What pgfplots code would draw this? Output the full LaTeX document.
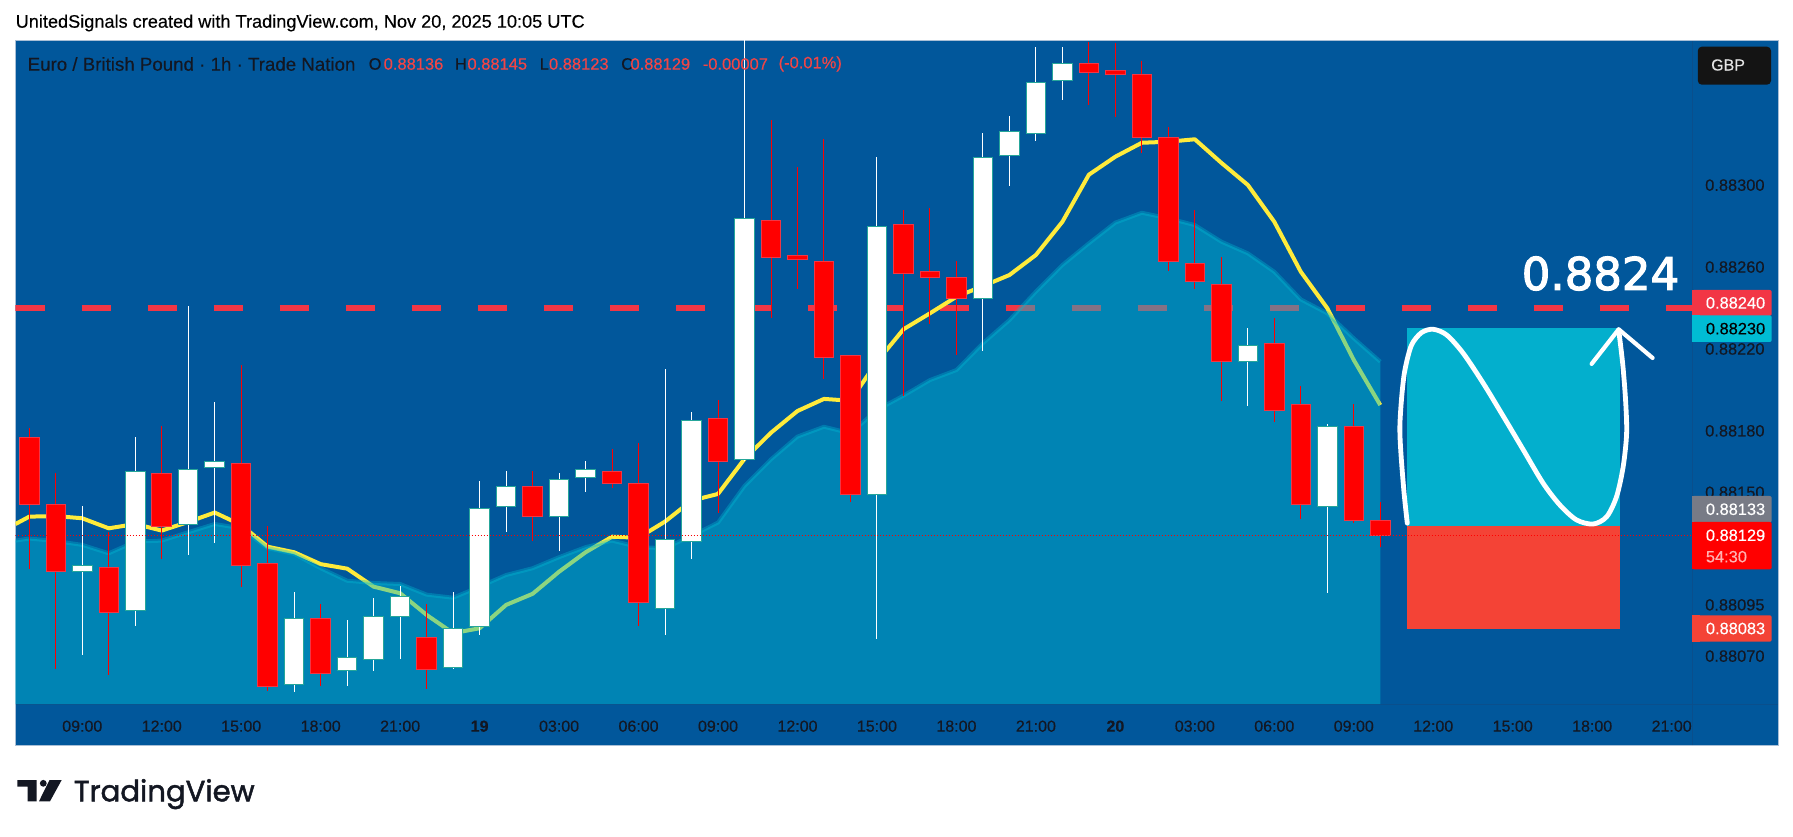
\documentclass[border=0pt]{standalone}
\usepackage{fontspec}
\setmainfont[FakeBold=0.3]{Liberation Sans}
\newfontfamily\bigf[FakeBold=2.5]{DejaVu Sans}
\newfontfamily\logof[FakeBold=1.6]{Poppins}
\usepackage{pgfplots}
\usepackage{pgfplotstable}
\pgfplotsset{compat=1.18}
\definecolor{bg}{HTML}{01579B}
\definecolor{frameline}{HTML}{A9BFD6}
\definecolor{sep}{HTML}{0A4F8C}
\definecolor{ink}{HTML}{131722}
\definecolor{tvred}{HTML}{F23645}
\definecolor{legred}{HTML}{F24545}
\definecolor{cyanC}{HTML}{00BCD4}
\definecolor{boxteal}{HTML}{03AFCD}
\definecolor{boxred}{HTML}{F44336}
\definecolor{yel}{HTML}{FFEB3B}
\definecolor{bullborder}{HTML}{26A69A}
\definecolor{grayL}{HTML}{787B86}
\newcommand{\fs}[1]{\fontsize{#1}{#1}\selectfont}

% i high top bot low
\pgfplotstableread{
i high top bot low
0 0.881814 0.881769 0.881441 0.881127
1 0.881593 0.881441 0.881114 0.880639
3 0.881308 0.881134 0.880914 0.880609
5 0.881824 0.881593 0.881332 0.881176
8 0.882120 0.881642 0.881144 0.881036
9 0.881336 0.881153 0.880553 0.880528
11 0.880955 0.880885 0.880616 0.880556
15 0.880955 0.880792 0.880636 0.880538
19 0.881603 0.881529 0.881383 0.881262
22 0.881712 0.881601 0.881544 0.881523
23 0.881739 0.881544 0.880961 0.880849
26 0.881951 0.881861 0.881650 0.881398
28 0.883318 0.882828 0.882648 0.882353
29 0.883088 0.882657 0.882638 0.882491
30 0.883224 0.882628 0.882159 0.882055
31 0.882169 0.882169 0.881490 0.881453
33 0.882879 0.882809 0.882569 0.881972
34 0.882888 0.882579 0.882550 0.882323
35 0.882628 0.882550 0.882447 0.882171
40 0.883699 0.883595 0.883549 0.883390
41 0.883692 0.883561 0.883539 0.883331
42 0.883605 0.883541 0.883233 0.883158
43 0.883282 0.883233 0.882628 0.882582
44 0.882879 0.882618 0.882530 0.882491
45 0.882648 0.882516 0.882140 0.881944
47 0.882351 0.882228 0.881900 0.881845
48 0.882019 0.881930 0.881440 0.881368
50 0.881931 0.881822 0.881363 0.881349
51 0.881453 0.881363 0.881290 0.881234
}\bearTable

\pgfplotstableread{
i high top bot low
2 0.881433 0.881142 0.881114 0.880707
4 0.881770 0.881601 0.880924 0.880849
6 0.882410 0.881610 0.881344 0.881195
7 0.881941 0.881651 0.881622 0.881254
10 0.881013 0.880883 0.880563 0.880526
12 0.880877 0.880692 0.880628 0.880554
13 0.880984 0.880893 0.880685 0.880629
14 0.881043 0.880990 0.880895 0.880688
16 0.881013 0.880834 0.880646 0.880639
17 0.881555 0.881420 0.880846 0.880805
18 0.881604 0.881527 0.881432 0.881308
20 0.881594 0.881562 0.881383 0.881215
21 0.881653 0.881610 0.881573 0.881503
24 0.882101 0.881271 0.880934 0.880805
25 0.881892 0.881852 0.881261 0.881176
27 0.883750 0.882838 0.881661 0.881653
32 0.883137 0.882797 0.881490 0.880785
36 0.883254 0.883136 0.882447 0.882192
37 0.883338 0.883261 0.883146 0.882997
38 0.883674 0.883502 0.883253 0.883217
39 0.883674 0.883595 0.883512 0.883416
46 0.882301 0.882216 0.882140 0.881923
49 0.881834 0.881820 0.881432 0.881007
}\bullTable

\pgfplotstableread{
x ema
-0.521 0.881264
0 0.881274
1 0.881262
2 0.881243
3 0.881202
4 0.881259
5 0.881264
6 0.881305
7 0.881345
8 0.881324
9 0.881227
10 0.881199
11 0.881129
12 0.881068
13 0.881057
14 0.881052
15 0.881000
16 0.880985
17 0.881039
18 0.881096
19 0.881129
20 0.881183
21 0.881232
22 0.881264
23 0.881232
24 0.881227
25 0.881287
26 0.881352
27 0.881531
28 0.881661
29 0.881772
30 0.881820
31 0.881788
32 0.881902
33 0.881972
34 0.882048
35 0.882097
36 0.882228
37 0.882341
38 0.882480
39 0.882610
40 0.882716
41 0.882817
42 0.882865
43 0.882838
44 0.882805
45 0.882724
46 0.882667
47 0.882577
48 0.882442
49 0.882374
50 0.882252
51 0.882138
}\areaTable

\pgfplotstableread{
x ma
-0.521 0.881345
0 0.881381
1 0.881384
2 0.881373
3 0.881324
4 0.881345
5 0.881313
6 0.881355
7 0.881401
8 0.881340
9 0.881234
10 0.881207
11 0.881149
12 0.881127
13 0.881039
14 0.881007
15 0.880901
16 0.880812
17 0.880836
18 0.880950
19 0.881004
20 0.881112
21 0.881207
22 0.881283
23 0.881278
24 0.881357
25 0.881459
26 0.881492
27 0.881663
28 0.881791
29 0.881897
30 0.881956
31 0.881947
32 0.882138
33 0.882296
34 0.882374
35 0.882455
36 0.882507
37 0.882561
38 0.882659
39 0.882821
40 0.883051
41 0.883139
42 0.883207
43 0.883212
44 0.883224
45 0.883109
46 0.883001
47 0.882821
48 0.882577
49 0.882399
50 0.882146
51 0.881926
}\maTable

\pgfplotstableread{
x y
52.02 0.881349
51.90 0.881495
51.78 0.881690
51.74 0.881820
51.81 0.881967
51.93 0.882097
52.18 0.882219
52.56 0.882280
53.00 0.882296
53.51 0.882268
54.13 0.882179
54.89 0.882032
55.65 0.881870
56.40 0.881707
57.15 0.881544
57.78 0.881438
58.41 0.881365
59.04 0.881345
59.55 0.881381
59.92 0.881479
60.17 0.881625
60.30 0.881788
60.26 0.881951
60.15 0.882130
60.00 0.882293
}\curveTable

\pgfplotsset{
  candlewick/.style={forget plot, draw=none, mark=none, error bars/.cd, y dir=both, y explicit, error mark=none, error bar style={line width=1pt, color=#1}},
  candlebody/.style 2 args={forget plot, draw=none, mark=none, error bars/.cd, y dir=both, y explicit, error mark=none, error bar style={line width=#1, color=#2}},
}

\begin{document}
\begin{tikzpicture}[x=1pt,y=1pt]
% page
\fill[white] (0,0) rectangle (1793,836);
% chart frame (y measured from bottom = 836 - py)
\fill[bg] (15.5,91) rectangle (1778,795);
\draw[frameline,line width=1pt] (15.5,91) rectangle (1778,795);
\draw[sep,line width=0.8pt] (15.5,132) -- (1778,132);
\draw[sep,line width=0.8pt] (1692,91) -- (1692,795);

\begin{axis}[
  at={(15.5pt,132pt)}, anchor=south west,
  scale only axis, width=1676.5pt, height=663pt,
  xmin=-0.521, xmax=62.77, ymin=0.880466, ymax=0.883704,
  axis line style={draw=none}, tick style={draw=none},
  xtick={2,5,8,11,14,17,20,23,26,29,32,35,38,41,44,47,50,53,56,59,62},
  xticklabels={09:00,12:00,15:00,18:00,21:00,\textbf{19},03:00,06:00,09:00,12:00,15:00,18:00,21:00,\textbf{20},03:00,06:00,09:00,12:00,15:00,18:00,21:00},
  xticklabel style={font=\fs{16}, text=ink, yshift=-16pt, anchor=north, inner sep=0pt, text height=11.5pt, text depth=0pt},
  ytick={0.88300,0.88260,0.88220,0.88180,0.88150,0.88095,0.88070},
  yticklabels={0.88300,0.88260,0.88220,0.88180,0.88150,0.88095,0.88070},
  yticklabel pos=right,
  yticklabel style={font=\fs{16.4}, text=ink, anchor=west, inner sep=0pt, xshift=13pt},
]
% key level
\addplot[forget plot, tvred, line width=6pt, dash pattern=on 29.5pt off 36.5pt] coordinates {(-0.521,0.88240)(62.77,0.88240)};
% moving average under the cloud
\addplot[forget plot, yel, line width=4pt, line join=round] table[x=x,y=ma] {\maTable};
% cloud
\addplot[forget plot, fill=cyanC, fill opacity=0.45, draw=none] table[x=x,y=ema] {\areaTable} \closedcycle;
\addplot[forget plot, cyanC, opacity=0.35, line width=4pt, line join=round] table[x=x,y=ema] {\areaTable};
% trade boxes
\addplot[forget plot, fill=boxteal, draw=none] coordinates {(52,0.881335)(60.05,0.881335)(60.05,0.88230)(52,0.88230)} -- cycle;
\addplot[forget plot, fill=boxred, draw=none] coordinates {(52,0.880834)(60.05,0.880834)(60.05,0.881335)(52,0.881335)} -- cycle;
% wicks
\addplot[candlewick=red]
  table[x=i, y expr={\thisrow{high}-(\thisrow{high}-\thisrow{low})/2}, y error expr={(\thisrow{high}-\thisrow{low})/2}] {\bearTable};
\addplot[candlewick=white]
  table[x=i, y expr={\thisrow{high}-(\thisrow{high}-\thisrow{low})/2}, y error expr={(\thisrow{high}-\thisrow{low})/2}] {\bullTable};
% body outlines
\addplot[candlebody={20.5pt}{tvred}]
  table[x=i, y expr={\thisrow{top}-(\thisrow{top}-\thisrow{bot})/2}, y error expr={(\thisrow{top}-\thisrow{bot})/2+0.000002}] {\bearTable};
\addplot[candlebody={20.5pt}{bullborder}]
  table[x=i, y expr={\thisrow{top}-(\thisrow{top}-\thisrow{bot})/2}, y error expr={(\thisrow{top}-\thisrow{bot})/2+0.000002}] {\bullTable};
% body fills
\addplot[candlebody={18.5pt}{red}]
  table[x=i, y expr={\thisrow{top}-(\thisrow{top}-\thisrow{bot})/2}, y error expr={(\thisrow{top}-\thisrow{bot})/2-0.000003}] {\bearTable};
\addplot[candlebody={18.5pt}{white}]
  table[x=i, y expr={\thisrow{top}-(\thisrow{top}-\thisrow{bot})/2}, y error expr={(\thisrow{top}-\thisrow{bot})/2-0.000003}] {\bullTable};
% last price
\addplot[forget plot, red, line width=0.9pt, dash pattern=on 1pt off 2pt] coordinates {(-0.521,0.88129)(62.77,0.88129)};
% hand-drawn path and arrow
\addplot[forget plot, white, line width=4.8pt, smooth, tension=0.5, line cap=round, line join=round] table[x=x,y=y] {\curveTable};
\addplot[forget plot, white, line width=4.2pt, line cap=round, line join=round] coordinates {(58.98,0.882127)(60.00,0.882296)(61.28,0.882156)};
\end{axis}

% title and legend
\node[anchor=west,inner sep=0pt,text=black,font=\fs{18.15}] at (15.5,813) {UnitedSignals created with TradingView.com, Nov 20, 2025 10:05 UTC};
\begin{scope}[every node/.style={anchor=west,inner sep=0pt,font=\fs{16.5}}]
\node[text=ink,font=\fs{18.7}] at (27.5,772) {Euro / British Pound · 1h · Trade Nation};
\node[text=ink] at (368.5,772) {O};
\node[text=legred] at (383.5,772) {0.88136};
\node[text=ink] at (454.7,772) {H};
\node[text=legred] at (467.3,772) {0.88145};
\node[text=ink] at (539.6,772) {L};
\node[text=legred] at (548.8,772) {0.88123};
\node[text=ink] at (621,772) {C};
\node[text=legred] at (630.3,772) {0.88129};
\node[text=legred] at (702.6,772) {-0.00007};
\node[text=legred] at (778.4,772) {(-0.01\%)};
\end{scope}

% GBP button
\fill[black!92,rounded corners=4pt] (1697.8,751.3) rectangle (1771,789.3);
\node[anchor=west,inner sep=0pt,text=white!90!black,font=\fs{16}] at (1711,771) {GBP};

% price labels
\newcommand{\plabel}[5]{%
  \fill[#1,rounded corners=2pt] (1692,836-#2) rectangle (1771.7,836-#3);
  \fill[#1] (1692,836-#2) rectangle (1700,836-#3);
  \node[anchor=west,inner sep=0pt,text=#4,font=\fs{16.4}] at (1705.7,{836-(#2+#3)/2}) {#5};}
\plabel{grayL}{496}{522.5}{white}{0.88133}
\fill[red,rounded corners=2pt] (1692,314) rectangle (1771.7,266.7);
\fill[red] (1692,314) rectangle (1700,266.7);
\node[anchor=west,inner sep=0pt,text=white,font=\fs{16.4}] at (1705.7,300.7) {0.88129};
\node[anchor=west,inner sep=0pt,text=white!70!red,font=\fs{16.4}] at (1705.7,279.3) {54:30};
\plabel{boxred}{615.3}{641.7}{white}{0.88083}
\plabel{tvred}{290}{315.8}{white}{0.88240}
\plabel{cyanC}{315.3}{342}{black}{0.88230}

% big level label
\node[inner sep=0pt,text=white,font={\bigf\fs{45}}] at (1600.5,562.5) {0.8824};

% TradingView logo
\fill[ink] (17.3,56) -- (36.7,56) -- (36.7,34.7) -- (27.7,34.7) -- (27.7,49.3) -- (17.3,49.3) -- cycle;
\fill[ink] (43.3,52.7) circle (3.4);
\fill[ink] (49.5,56) -- (61.7,56) -- (50,34.7) -- (39,34.7) -- cycle;
\node[anchor=base west,inner sep=0pt,text=ink,font={\logof\fs{29.2}}] at (73.7,34.7) {TradingView};
\end{tikzpicture}
\end{document}
